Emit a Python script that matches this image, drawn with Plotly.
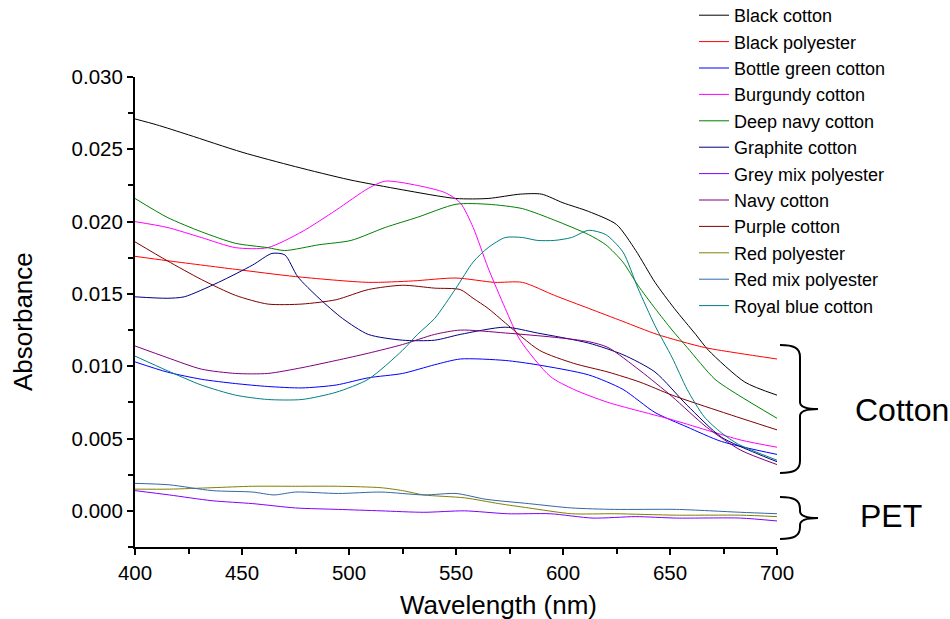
import plotly.graph_objects as go

# ---------------- data ----------------
names = ["Black cotton", "Black polyester", "Bottle green cotton", "Burgundy cotton",
         "Deep navy cotton", "Graphite cotton", "Grey mix polyester", "Navy cotton",
         "Purple cotton", "Red polyester", "Red mix polyester", "Royal blue cotton"]

colors = ["#000000", "#FF0000", "#0000FF", "#FF00FF", "#008000", "#000080",
          "#8000FF", "#800080", "#800000", "#808000", "#3366A8", "#008080"]

black_cotton_wl = [400, 410, 425, 450, 475, 500, 525, 550, 565, 580, 590, 600, 612, 625, 634, 643, 652, 662, 668, 685, 700]
black_cotton = [0.0271, 0.0267, 0.0260, 0.0248, 0.0238, 0.0229, 0.0222, 0.0216, 0.0216, 0.0219, 0.0219, 0.0213,
                0.0207, 0.0198, 0.0180, 0.0158, 0.0140, 0.0122, 0.0111, 0.0089, 0.0080]

black_poly_wl = [400, 415, 447, 475, 509, 530, 550, 568, 581, 596, 612, 628, 644, 666, 682, 700]
black_poly = [0.0176, 0.0173, 0.0167, 0.0162, 0.0158, 0.0159, 0.0161, 0.0158, 0.0158, 0.0149, 0.0140, 0.0131,
              0.0122, 0.0113, 0.0109, 0.0105]

bottle_green_wl = [400, 415, 431, 447, 462, 478, 494, 509, 525, 540, 552, 573, 588, 612, 628, 643, 658, 674, 700]
bottle_green = [0.0103, 0.0096, 0.0091, 0.0088, 0.0086, 0.0085, 0.0087, 0.0092, 0.0095, 0.0101, 0.0105, 0.0104,
                0.0101, 0.0094, 0.0084, 0.0068, 0.0058, 0.0048, 0.0039]

burgundy_wl = [400, 415, 431, 447, 462, 478, 494, 509, 517, 532, 545, 552, 558, 565, 573, 580, 594, 605, 621,
               651, 683, 700]
burgundy = [0.0200, 0.0196, 0.0189, 0.0182, 0.0182, 0.0193, 0.0208, 0.0223, 0.0228, 0.0225, 0.0220, 0.0213,
            0.0196, 0.0168, 0.0140, 0.0118, 0.0093, 0.0084, 0.0075, 0.0063, 0.0049, 0.0044]

deep_navy_wl = [400, 415, 431, 447, 462, 470, 486, 501, 517, 532, 550, 565, 581, 596, 612, 620, 628, 635, 643,
                651, 658, 671, 682, 700]
deep_navy = [0.0216, 0.0203, 0.0193, 0.0185, 0.0182, 0.0180, 0.0184, 0.0187, 0.0196, 0.0203, 0.0212, 0.0212,
             0.0209, 0.0201, 0.0191, 0.0184, 0.0172, 0.0156, 0.0140, 0.0125, 0.0113, 0.0091, 0.0080, 0.0064]

graphite_wl = [400, 415, 423, 439, 455, 464, 470, 476, 486, 497, 509, 525, 540, 552, 573, 588, 612, 628, 643,
               658, 674, 690, 700]
graphite = [0.0148, 0.0147, 0.0148, 0.0158, 0.0170, 0.0178, 0.0177, 0.0162, 0.0147, 0.0133, 0.0122, 0.0118,
            0.0118, 0.0122, 0.0127, 0.0123, 0.0116, 0.0108, 0.0096, 0.0073, 0.0051, 0.0040, 0.0034]

grey_mix_wl = [400, 416, 436, 455, 475, 495, 515, 535, 554, 574, 594, 614, 634, 653, 683, 700]
grey_mix = [0.0014, 0.0011, 0.0007, 0.0005, 0.0002, 0.0001, 0.0000, -0.0001, 0.0000, -0.0002, -0.0002,
            -0.0005, -0.0004, -0.0005, -0.0005, -0.0007]

navy_wl = [400, 415, 431, 447, 462, 478, 494, 509, 525, 540, 552, 573, 596, 612, 621, 636, 651, 667, 683, 700]
navy = [0.0114, 0.0106, 0.0098, 0.0095, 0.0095, 0.0099, 0.0104, 0.0109, 0.0115, 0.0122, 0.0125, 0.0123,
        0.0120, 0.0117, 0.0113, 0.0097, 0.0079, 0.0058, 0.0042, 0.0032]

purple_wl = [400, 415, 431, 447, 462, 478, 494, 509, 525, 540, 552, 558, 565, 573, 589, 605, 621, 636, 651, 675, 700]
purple = [0.0186, 0.0173, 0.0160, 0.0149, 0.0143, 0.0143, 0.0146, 0.0153, 0.0156, 0.0154, 0.0153, 0.0147,
          0.0140, 0.0130, 0.0111, 0.0102, 0.0096, 0.0089, 0.0080, 0.0068, 0.0056]

red_poly_wl = [400, 416, 436, 455, 475, 495, 515, 525, 535, 554, 570, 584, 604, 624, 653, 683, 700]
red_poly = [0.0015, 0.0015, 0.0016, 0.0017, 0.0017, 0.0017, 0.0016, 0.0014, 0.0011, 0.0009, 0.0005, 0.0002,
            -0.0002, -0.0002, -0.0003, -0.0003, -0.0004]

red_mix_wl = [400, 416, 436, 455, 465, 475, 495, 515, 535, 550, 564, 584, 604, 624, 653, 683, 700]
red_mix = [0.0019, 0.0018, 0.0014, 0.0013, 0.0011, 0.0013, 0.0012, 0.0013, 0.0011, 0.0012, 0.0008, 0.0005,
           0.0002, 0.0001, 0.0001, -0.0001, -0.0002]

royal_wl = [400, 415, 431, 447, 462, 478, 494, 509, 525, 532, 540, 550, 558, 565, 573, 581, 588, 596, 604, 612,
            620, 628, 635, 643, 651, 658, 666, 674, 682, 700]
royal = [0.0107, 0.0097, 0.0087, 0.0080, 0.0077, 0.0077, 0.0082, 0.0091, 0.0111, 0.0122, 0.0133, 0.0154,
         0.0172, 0.0182, 0.0189, 0.0189, 0.0187, 0.0187, 0.0189, 0.0194, 0.0191, 0.0179, 0.0154, 0.0128,
         0.0106, 0.0084, 0.0065, 0.0054, 0.0046, 0.0035]

series_x = [black_cotton_wl, black_poly_wl, bottle_green_wl, burgundy_wl, deep_navy_wl, graphite_wl,
            grey_mix_wl, navy_wl, purple_wl, red_poly_wl, red_mix_wl, royal_wl]
series_y = [black_cotton, black_poly, bottle_green, burgundy, deep_navy, graphite,
            grey_mix, navy, purple, red_poly, red_mix, royal]

x_title = "Wavelength (nm)"
y_title = "Absorbance"
group_labels = ["Cotton", "PET"]

# ---------------- figure ----------------
W, H = 950, 619
L, R, T, B = 135, 173, 77, 72
FONT = "Liberation Sans, Arial, sans-serif"

fig = go.Figure()
for n, c, xs, ys in zip(names, colors, series_x, series_y):
    fig.add_trace(go.Scatter(x=xs, y=ys, mode="lines", name=n,
                             line=dict(color=c, width=1, shape="spline", smoothing=0.7)))

pw, ph = W - L - R, H - T - B


def px(x):
    return (x - L) / pw


def py(y):
    return (H - B - y) / ph


def bracket(top, bot, xl=780, xv=800, xt=818):
    mid = (top + bot) / 2
    pts = [
        f"M{px(xl)},{py(top)}",
        f"C{px(xl + 14)},{py(top)} {px(xv)},{py(top + 3)} {px(xv)},{py(top + 12)}",
        f"L{px(xv)},{py(mid - 7)}",
        f"C{px(xv)},{py(mid - 2)} {px(xv + 6)},{py(mid)} {px(xt)},{py(mid)}",
        f"C{px(xv + 6)},{py(mid)} {px(xv)},{py(mid + 2)} {px(xv)},{py(mid + 7)}",
        f"L{px(xv)},{py(bot - 12)}",
        f"C{px(xv)},{py(bot - 3)} {px(xl + 14)},{py(bot)} {px(xl)},{py(bot)}",
    ]
    return " ".join(pts)


shapes = [
    dict(type="path", xref="paper", yref="paper", path=bracket(345, 473),
         line=dict(color="black", width=2)),
    dict(type="path", xref="paper", yref="paper", path=bracket(497, 539),
         line=dict(color="black", width=2)),
]

annotations = [
    dict(text=group_labels[0], x=px(853), y=py(410), xref="paper", yref="paper",
         xanchor="left", yanchor="middle", showarrow=False,
         font=dict(family=FONT, size=32, color="black")),
    dict(text=group_labels[1], x=px(858), y=py(516), xref="paper", yref="paper",
         xanchor="left", yanchor="middle", showarrow=False,
         font=dict(family=FONT, size=32, color="black")),
    dict(text=x_title, x=px(499), y=py(605), xref="paper", yref="paper",
         xanchor="center", yanchor="middle", showarrow=False,
         font=dict(family=FONT, size=26, color="black")),
    dict(text=y_title, x=px(23), y=py(322), xref="paper", yref="paper",
         xanchor="center", yanchor="middle", showarrow=False, textangle=-90,
         font=dict(family=FONT, size=26, color="black")),
]

axis_common = dict(showgrid=False, zeroline=False, showline=True, linecolor="black", linewidth=2,
                   ticks="outside", ticklen=6, tickwidth=1.5, tickcolor="black",
                   tickfont=dict(family=FONT, size=20.5, color="black"),
                   minor=dict(ticks="outside", ticklen=5, tickwidth=1.5, tickcolor="black"))

fig.update_layout(
    width=W, height=H,
    margin=dict(l=L, r=R, t=T, b=B, autoexpand=False),
    paper_bgcolor="white", plot_bgcolor="white",
    font=dict(family=FONT, color="black"),
    xaxis=dict(range=[400, 700], tick0=400, dtick=50, **axis_common),
    yaxis=dict(range=[-0.0025, 0.030], tick0=0, dtick=0.005, tickformat=".3f", **axis_common),
    legend=dict(x=px(694), y=py(-3), xanchor="left", yanchor="top",
                bgcolor="rgba(255,255,255,0)", borderwidth=0, maxheight=640,
                font=dict(family=FONT, size=18, color="black"),
                tracegroupgap=0),
    shapes=shapes,
    annotations=annotations,
)
fig.update_xaxes(minor_dtick=25)
fig.update_yaxes(minor_dtick=0.0025)

fig.write_html("out.html")
